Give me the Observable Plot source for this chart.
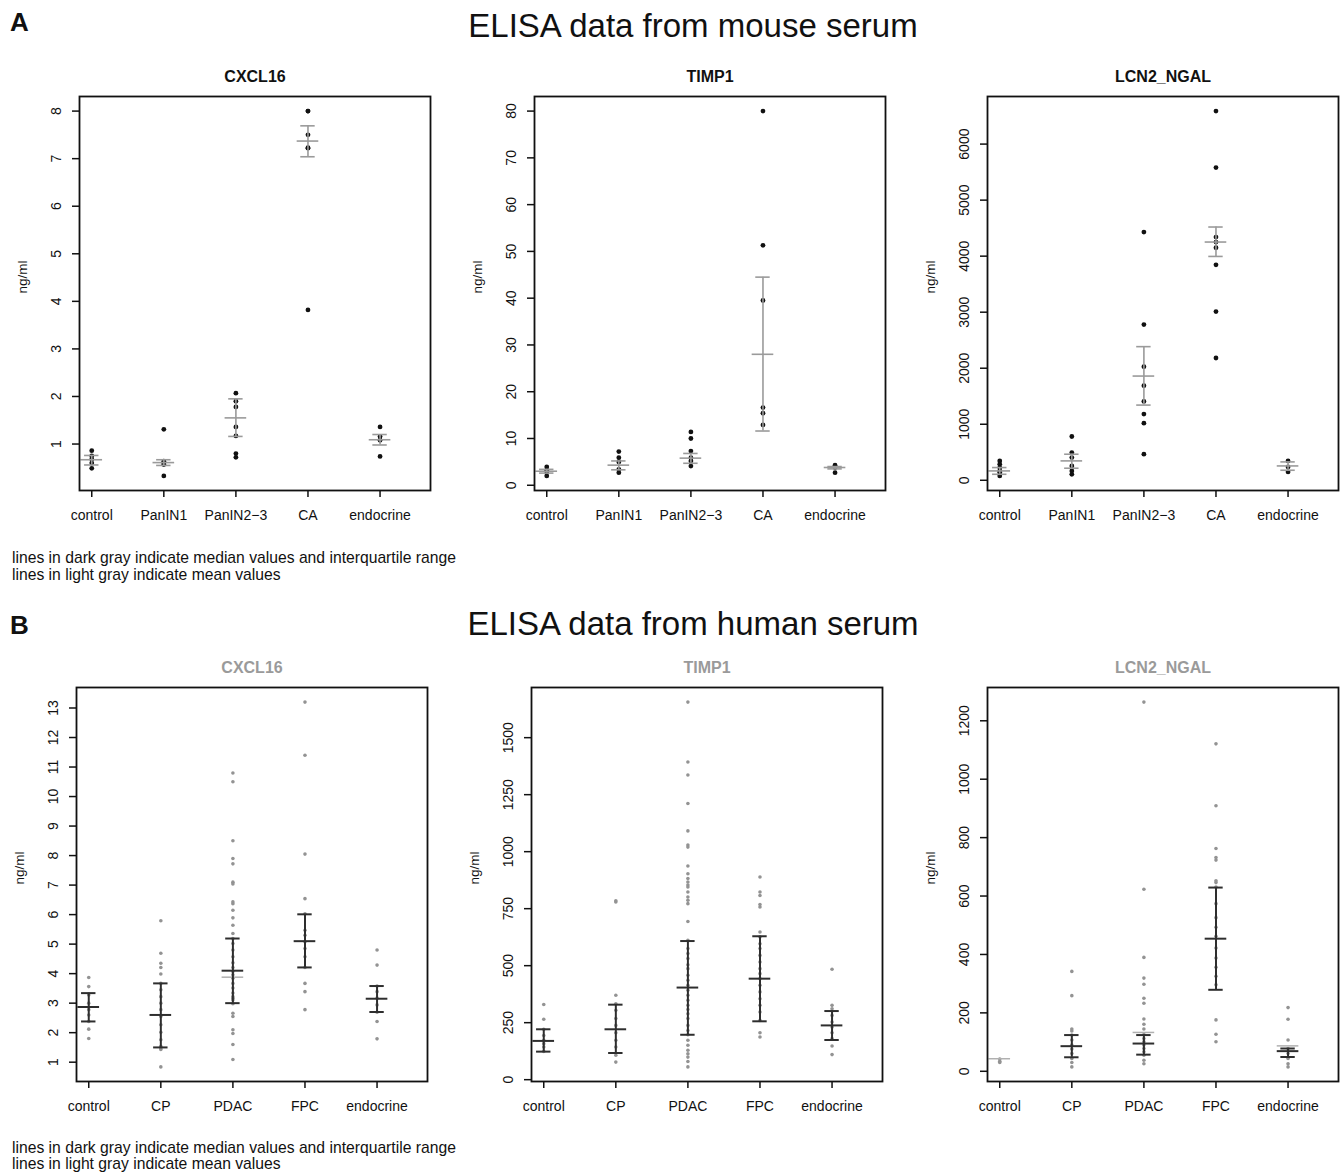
<!DOCTYPE html>
<html><head><meta charset="utf-8">
<script src="https://cdn.jsdelivr.net/npm/d3@7"></script>
<script src="https://cdn.jsdelivr.net/npm/@observablehq/plot@0.6"></script>
<style>
body{margin:0;background:#fff;}
#page{position:relative;width:1341px;height:1176px;overflow:hidden;font-family:"Liberation Sans",Arial,Helvetica,sans-serif;color:#111;background:#fff;}
.t{position:absolute;line-height:1;white-space:nowrap;}
.panel{position:absolute;}
</style></head><body>
<div id="page">
  <div class="t" style="left:10px;top:9px;font-size:26px;font-weight:bold;">A</div>
  <div class="t" style="left:693px;top:9px;font-size:33px;transform:translateX(-50%);">ELISA data from mouse serum</div>
  <div class="t" style="left:12px;top:550px;font-size:15.7px;">lines in dark gray indicate median values and interquartile range</div>
  <div class="t" style="left:12px;top:567px;font-size:15.7px;">lines in light gray indicate mean values</div>
  <div class="t" style="left:10px;top:612px;font-size:26px;font-weight:bold;">B</div>
  <div class="t" style="left:693px;top:607px;font-size:33px;transform:translateX(-50%);">ELISA data from human serum</div>
  <div class="t" style="left:12px;top:1140px;font-size:15.7px;">lines in dark gray indicate median values and interquartile range</div>
  <div class="t" style="left:12px;top:1156px;font-size:15.7px;">lines in light gray indicate mean values</div>
</div>
<script>
// ---------- categories ----------
const mouseGroups = ["control", "PanIN1", "PanIN2\u22123", "CA", "endocrine"];
const humanGroups = ["control", "CP", "PDAC", "FPC", "endocrine"];

// ---------- mouse serum: individual values (ng/ml) ----------
const mouseCXCL16 = [
  [0.86, 0.75, 0.68, 0.60, 0.49],
  [1.31, 0.64, 0.60, 0.57, 0.33],
  [2.07, 1.90, 1.78, 1.36, 1.17, 0.80, 0.72],
  [8.0, 8.0, 7.50, 7.23, 7.22, 3.82],
  [1.36, 1.16, 1.08, 0.74]
];
const mouseTIMP1 = [
  [3.9, 3.2, 2.9, 2.0],
  [7.2, 5.9, 5.0, 3.4, 2.7],
  [11.4, 10.0, 7.3, 5.9, 5.2, 4.1],
  [80.0, 51.3, 39.5, 16.6, 15.4, 12.9],
  [4.3, 3.8, 2.7]
];
const mouseLCN2 = [
  [346, 286, 227, 167, 137, 78],
  [781, 495, 405, 256, 167, 107],
  [4430, 2779, 2027, 1688, 1407, 1181, 1020, 465],
  [6589, 5581, 4340, 4251, 4150, 3846, 3011, 2182],
  [346, 238, 149]
];
// [q1, median, q3, mean] per group
const mouseCXCL16Stats = [[0.56, 0.67, 0.76, null], [0.55, 0.61, 0.67, null], [1.16, 1.55, 1.95, null], [7.04, 7.37, 7.69, null], [0.98, 1.09, 1.20, null]];
const mouseTIMP1Stats = [[2.6, 3.0, 3.4, null], [3.3, 4.3, 5.2, null], [4.7, 5.8, 6.8, null], [11.6, 28.0, 44.5, null], [3.5, 3.8, 4.0, null]];
const mouseLCN2Stats = [[107, 167, 227, null], [215, 346, 465, null], [1342, 1860, 2385, null], [3995, 4252, 4520, null], [179, 256, 328, null]];

// ---------- human serum: individual values (ng/ml) ----------
const humanCXCL16 = [
  [3.87, 3.56, 3.28, 3.0, 2.78, 2.6, 2.38, 2.12, 1.8],
  [5.79, 4.69, 4.35, 4.21, 3.99, 3.67, 3.45, 3.22, 3.0, 2.78, 2.55, 2.27, 2.01, 1.76, 1.54, 1.48, 1.43, 0.84],
  [10.8, 10.5, 8.5, 7.9, 7.72, 7.1, 7.04, 6.43, 6.37, 6.15, 5.89, 5.64, 5.36, 5.19, 5.02, 4.8, 4.57, 4.37, 4.21, 4.07, 3.96, 3.84, 3.67, 3.51, 3.34, 3.22, 3.17, 3.11, 2.98, 2.66, 2.55, 2.1, 1.97, 1.6, 1.09],
  [13.2, 11.4, 8.05, 6.54, 6.03, 5.47, 5.3, 5.08, 4.85, 4.57, 4.21, 3.67, 3.39, 2.78],
  [4.8, 4.29, 3.58, 3.39, 3.17, 2.94, 2.69, 2.38, 1.79]
];
const humanTIMP1 = [
  [330, 265, 221, 194, 173, 158, 143, 124],
  [785, 779, 370, 333, 304, 268, 238, 206, 173, 143, 107, 77],
  [1656, 1393, 1336, 1211, 1091, 1029, 1020, 937, 903, 882, 867, 854, 845, 823, 801, 787, 772, 694, 611, 575, 553, 531, 504, 487, 458, 436, 414, 392, 370, 348, 326, 308, 289, 268, 238, 216, 197, 173, 151, 129, 114, 99, 80, 56],
  [889, 823, 808, 768, 757, 648, 626, 596, 575, 545, 516, 487, 465, 443, 414, 385, 355, 326, 297, 260, 206, 187],
  [484, 326, 311, 282, 253, 231, 206, 180, 148, 110]
];
const humanLCN2 = [
  [42, 34, 30],
  [342, 259, 145, 138, 124, 107, 90, 76, 61, 44, 30, 15],
  [1264, 623, 390, 319, 298, 250, 233, 179, 161, 145, 126, 112, 101, 90, 78, 67, 55, 38, 26],
  [1121, 909, 763, 732, 723, 652, 646, 631, 574, 526, 493, 462, 422, 388, 356, 325, 296, 176, 127, 101],
  [218, 178, 107, 78, 61, 44, 26, 15]
];
const humanCXCL16Stats = [[2.38, 2.87, 3.34, null], [1.5, 2.6, 3.67, null], [3.0, 4.1, 5.19, 3.88], [4.21, 5.1, 6.01, null], [2.7, 3.15, 3.58, null]];
const humanTIMP1Stats = [[123, 170, 221, null], [117, 221, 329, null], [197, 404, 608, null], [256, 443, 629, null], [174, 238, 301, null]];
const humanLCN2Stats = [[null, null, null, 43], [48, 86, 124, null], [57, 95, 124, 133], [279, 454, 629, null], [49, 69, 78, 87]];

// ---------- tick labels ----------
const ticksMouseCXCL16 = [1, 2, 3, 4, 5, 6, 7, 8];
const ticksMouseTIMP1 = [0, 10, 20, 30, 40, 50, 60, 70, 80];
const ticksMouseLCN2 = [0, 1000, 2000, 3000, 4000, 5000, 6000];
const ticksHumanCXCL16 = [1, 2, 3, 4, 5, 6, 7, 8, 9, 10, 11, 12, 13];
const ticksHumanTIMP1 = [0, 250, 500, 750, 1000, 1250, 1500];
const ticksHumanLCN2 = [0, 200, 400, 600, 800, 1000, 1200];

const FONT = '"Liberation Sans", Arial, Helvetica, sans-serif';
const ML = 70, MR = 2, MT = 40, MB = 40, FW = 351, FH = 394;

function panel(cfg) {
  const pts = cfg.values.flatMap((vs, i) => vs.map(v => ({g: i + 1, v})));
  const st = cfg.stats.map((s, i) => ({g: i + 1, q1: s[0], med: s[1], q3: s[2], mean: s[3]}));
  const iq = st.filter(d => d.q1 != null);
  const mn = st.filter(d => d.mean != null);
  const ext = d3.extent(pts, d => d.v);
  const pad = (ext[1] - ext[0]) * 0.04;
  const lc = cfg.lineColor, lw = cfg.lineWidth;
  const chart = Plot.plot({
    width: ML + FW + MR, height: MT + FH + MB,
    marginLeft: ML, marginRight: MR, marginTop: MT, marginBottom: MB,
    style: {fontFamily: FONT, fontSize: "14px", color: "#111", background: "transparent", overflow: "visible"},
    x: {domain: [0.83, 5.7]},
    y: {domain: [ext[0] - pad, ext[1] + pad]},
    marks: [
      Plot.axisY({ticks: cfg.ticks, tickFormat: d => String(d), tickSize: 7, tickRotate: -90, tickPadding: 12, label: null, strokeWidth: 1.5, fontSize: 14, fill: "#111"}),
      Plot.axisX({ticks: [1, 2, 3, 4, 5], tickFormat: d => cfg.groups[d - 1], tickSize: 7, tickPadding: 13, label: null, strokeWidth: 1.5, fontSize: 14, fill: "#111"}),
      Plot.dot(pts, {x: "g", y: "v", r: cfg.dotR, fill: cfg.dotColor, stroke: "none"}),
      Plot.ruleY(mn, {y: "mean", x1: d => d.g - 0.15, x2: d => d.g + 0.15, stroke: cfg.meanColor, strokeWidth: 1.5}),
      Plot.ruleX(iq, {x: "g", y1: "q1", y2: "q3", stroke: lc, strokeWidth: lw}),
      Plot.ruleY(iq, {y: "q1", x1: d => d.g - 0.1, x2: d => d.g + 0.1, stroke: lc, strokeWidth: lw}),
      Plot.ruleY(iq, {y: "q3", x1: d => d.g - 0.1, x2: d => d.g + 0.1, stroke: lc, strokeWidth: lw}),
      Plot.ruleY(iq, {y: "med", x1: d => d.g - 0.15, x2: d => d.g + 0.15, stroke: lc, strokeWidth: lw}),
      Plot.frame({stroke: "#111", strokeWidth: 1.8}),
      Plot.text([cfg.title], {text: d => d, frameAnchor: "top", dy: -26, fontWeight: "bold", fontSize: 16, fill: cfg.titleColor}),
      Plot.text(["ng/ml"], {text: d => d, frameAnchor: "left", dx: -57, rotate: -90, fontSize: 13.5, fill: "#111"})
    ]
  });
  const wrap = document.createElement("div");
  wrap.className = "panel";
  wrap.style.left = (cfg.frameLeft - ML) + "px";
  wrap.style.top = (cfg.frameTop - MT) + "px";
  wrap.appendChild(chart);
  document.getElementById("page").appendChild(wrap);
}

const mouseStyle = {groups: mouseGroups, titleColor: "#111", dotColor: "#111", dotR: 2.4, lineColor: "#9a9a9a", lineWidth: 1.6, meanColor: "#c4c4c4", frameTop: 96};
const humanStyle = {groups: humanGroups, titleColor: "#9a9a9a", dotColor: "#939393", dotR: 1.8, lineColor: "#2e2e2e", lineWidth: 2, meanColor: "#b0b0b0", frameTop: 687};

panel({...mouseStyle, title: "CXCL16", values: mouseCXCL16, stats: mouseCXCL16Stats, ticks: ticksMouseCXCL16, frameLeft: 79});
panel({...mouseStyle, title: "TIMP1", values: mouseTIMP1, stats: mouseTIMP1Stats, ticks: ticksMouseTIMP1, frameLeft: 534});
panel({...mouseStyle, title: "LCN2_NGAL", values: mouseLCN2, stats: mouseLCN2Stats, ticks: ticksMouseLCN2, frameLeft: 987});
panel({...humanStyle, title: "CXCL16", values: humanCXCL16, stats: humanCXCL16Stats, ticks: ticksHumanCXCL16, frameLeft: 76});
panel({...humanStyle, title: "TIMP1", values: humanTIMP1, stats: humanTIMP1Stats, ticks: ticksHumanTIMP1, frameLeft: 531});
panel({...humanStyle, title: "LCN2_NGAL", values: humanLCN2, stats: humanLCN2Stats, ticks: ticksHumanLCN2, frameLeft: 987});
</script>
</body></html>
